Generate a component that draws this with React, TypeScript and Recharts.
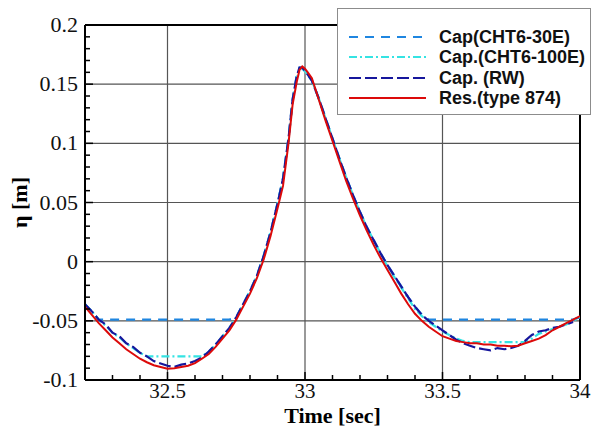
import { LineChart, Line, XAxis, YAxis, ReferenceLine, Legend } from "recharts"

// sample times [sec]
const time = [
  32.2, 32.225, 32.25, 32.275, 32.3, 32.325, 32.35, 32.375, 32.4, 32.425,
  32.45, 32.475, 32.5, 32.525, 32.55, 32.575, 32.6, 32.625, 32.65, 32.675,
  32.7, 32.725, 32.75, 32.775, 32.8, 32.825, 32.85, 32.875, 32.9, 32.92,
  32.94, 32.955, 32.97, 32.98, 32.99, 33.0, 33.01, 33.025, 33.05, 33.075,
  33.1, 33.125, 33.15, 33.175, 33.2, 33.225, 33.25, 33.275, 33.3, 33.325,
  33.35, 33.375, 33.4, 33.425, 33.45, 33.475, 33.5, 33.525, 33.55, 33.575,
  33.6, 33.625, 33.65, 33.675, 33.7, 33.725, 33.75, 33.775, 33.8, 33.825,
  33.85, 33.875, 33.9, 33.925, 33.95, 33.975, 34.0,
]

// Res.(type 874)
const res = [
  -0.038, -0.045, -0.052, -0.058, -0.064, -0.069, -0.074, -0.078, -0.082, -0.085,
  -0.0875, -0.089, -0.0905, -0.09, -0.089, -0.088, -0.0857, -0.082, -0.078, -0.072,
  -0.065, -0.058, -0.049, -0.038, -0.027, -0.014, 0.002, 0.022, 0.045, 0.064,
  0.1, 0.133, 0.152, 0.162, 0.165, 0.163, 0.16, 0.155, 0.137, 0.119,
  0.102, 0.085, 0.068, 0.053, 0.039, 0.026, 0.014, 0.003, -0.007, -0.017,
  -0.027, -0.036, -0.044, -0.05, -0.055, -0.059, -0.063, -0.065, -0.067, -0.068,
  -0.069, -0.069, -0.07, -0.07, -0.071, -0.071, -0.0715, -0.071, -0.069, -0.067,
  -0.065, -0.062, -0.058, -0.055, -0.052, -0.049, -0.046,
]

// Cap. (RW)
const rw = [
  -0.036, -0.042, -0.049, -0.053, -0.06, -0.063, -0.069, -0.072, -0.077, -0.08,
  -0.084, -0.086, -0.088, -0.089, -0.087, -0.086, -0.084, -0.081, -0.076, -0.07,
  -0.063, -0.056, -0.047, -0.036, -0.025, -0.012, 0.005, 0.025, 0.049, 0.07,
  0.104, 0.137, 0.157, 0.164, 0.164, 0.161, 0.158, 0.153, 0.138, 0.121,
  0.104, 0.087, 0.071, 0.056, 0.042, 0.029, 0.018, 0.007, -0.003, -0.012,
  -0.021, -0.03, -0.038, -0.045, -0.05, -0.054, -0.058, -0.062, -0.066, -0.069,
  -0.071, -0.073, -0.074, -0.075, -0.073, -0.074, -0.073, -0.071, -0.067, -0.062,
  -0.059, -0.058, -0.056, -0.055, -0.053, -0.051, null,
]

// Cap.(CHT6-100E)
const cht100 = [
  -0.036, -0.042, -0.049, -0.054, -0.06, -0.064, -0.069, -0.073, -0.077, -0.08,
  -0.08, -0.08, -0.08, -0.08, -0.08, -0.08, -0.08, -0.08, -0.076, -0.07,
  -0.063, -0.056, -0.047, -0.036, -0.025, -0.012, 0.005, 0.025, 0.049, 0.07,
  0.103, 0.136, 0.156, 0.162, 0.163, 0.161, 0.158, 0.153, 0.138, 0.121,
  0.104, 0.087, 0.071, 0.056, 0.042, 0.029, 0.018, 0.007, -0.004, -0.013,
  -0.022, -0.031, -0.04, -0.046, -0.051, -0.055, -0.059, -0.062, -0.065, -0.067,
  -0.068, -0.068, -0.068, -0.068, -0.068, -0.068, -0.068, -0.068, -0.068, -0.065,
  -0.061, -0.059, -0.057, -0.055, -0.053, -0.05, -0.047,
]

// Cap(CHT6-30E)
const cht30 = [
  -0.036, -0.042, -0.049, -0.049, -0.049, -0.049, -0.049, -0.049, -0.049, -0.049,
  -0.049, -0.049, -0.049, -0.049, -0.049, -0.049, -0.049, -0.049, -0.049, -0.049,
  -0.049, -0.049, -0.047, -0.036, -0.025, -0.012, 0.005, 0.025, 0.049, 0.07,
  0.104, 0.137, 0.157, 0.164, 0.164, 0.161, 0.158, 0.153, 0.138, 0.121,
  0.104, 0.087, 0.071, 0.056, 0.042, 0.029, 0.018, 0.007, -0.003, -0.012,
  -0.021, -0.03, -0.038, -0.045, -0.049, -0.049, -0.049, -0.049, -0.049, -0.049,
  -0.049, -0.049, -0.049, -0.049, -0.049, -0.049, -0.049, -0.049, -0.049, -0.049,
  -0.049, -0.049, -0.049, -0.049, -0.049, -0.049, -0.047,
]

const seriesNames = ["Cap(CHT6-30E)", "Cap.(CHT6-100E)", "Cap. (RW)", "Res.(type 874)"]

const xTicks = [
  32.2, 32.3, 32.4, 32.5, 32.6, 32.7, 32.8, 32.9, 33, 33.1,
  33.2, 33.3, 33.4, 33.5, 33.6, 33.7, 33.8, 33.9, 34,
]
const xMajor = [32.5, 33, 33.5, 34]
const yTicks = [
  -0.1, -0.09, -0.08, -0.07, -0.06, -0.05, -0.04, -0.03, -0.02, -0.01,
  0, 0.01, 0.02, 0.03, 0.04, 0.05, 0.06, 0.07, 0.08, 0.09,
  0.1, 0.11, 0.12, 0.13, 0.14, 0.15, 0.16, 0.17, 0.18, 0.19, 0.2,
]
const yMajor = [-0.1, -0.05, 0, 0.05, 0.1, 0.15, 0.2]
const xGrid = [32.5, 33, 33.5]
const yGrid = [-0.05, 0, 0.05, 0.1, 0.15]

const data = time.map((t, i) => ({
  t,
  cht30: cht30[i],
  cht100: cht100[i],
  rw: rw[i],
  res: res[i],
}))

const LINES = [
  { key: "cht30", color: "#1f86e0", dash: "9 7", width: 2.4 },
  { key: "cht100", color: "#35e3e3", dash: "8 3 2 3", width: 2.2 },
  { key: "rw", color: "#16169c", dash: "12 4", width: 2.2 },
  { key: "res", color: "#dc0a0a", dash: undefined, width: 2 },
]

const SERIF = "Liberation Serif"
const SANS = "Liberation Sans"

const XTick = (props: any) => {
  const { x, y, payload } = props
  const major = xMajor.includes(payload.value)
  return (
    <g>
      <line x1={x} y1={y} x2={x} y2={y - (major ? 8 : 5)} stroke="#000" strokeWidth={1.5} />
      {major && (
        <text x={x} y={y + 18} textAnchor="middle" fontFamily={SERIF} fontSize={21} fill="#111">
          {String(payload.value)}
        </text>
      )}
    </g>
  )
}

const YTick = (props: any) => {
  const { x, y, payload } = props
  const major = yMajor.includes(payload.value)
  return (
    <g>
      <line x1={x} y1={y} x2={x + (major ? 8 : 5)} y2={y} stroke="#000" strokeWidth={1.5} />
      {major && (
        <text x={x - 7} y={y + 7} textAnchor="end" fontFamily={SERIF} fontSize={22} fill="#111">
          {String(payload.value)}
        </text>
      )}
    </g>
  )
}

const LegendBox = () => (
  <div
    style={{
      width: 254,
      height: 107,
      boxSizing: "border-box",
      border: "1.5px solid #8c8c8c",
      background: "#fff",
      position: "relative",
    }}
  >
    {seriesNames.map((name, i) => (
      <div key={name} style={{ position: "absolute", left: 0, top: 18 + i * 20.3, height: 20, width: 254 }}>
        <svg width={80} height={20} style={{ position: "absolute", left: 10, top: 0 }}>
          <line
            x1={1}
            y1={10}
            x2={78}
            y2={10}
            stroke={LINES[i].color}
            strokeWidth={2}
            strokeDasharray={LINES[i].dash}
          />
        </svg>
        <span
          style={{
            position: "absolute",
            left: 101,
            top: 0,
            lineHeight: "20px",
            fontFamily: SANS,
            fontWeight: "bold",
            fontSize: 18,
            color: "#111",
            whiteSpace: "nowrap",
          }}
        >
          {name}
        </span>
      </div>
    ))}
  </div>
)

export default function App() {
  return (
    <div style={{ position: "absolute", left: 0, top: 0, width: 592, height: 428, background: "#fff" }}>
      <LineChart width={592} height={428} data={data} margin={{ top: 25, right: 12, left: 0, bottom: 0 }}>
        <XAxis
          dataKey="t"
          type="number"
          domain={[32.2, 34]}
          ticks={xTicks}
          interval={0}
          height={48}
          tickSize={0}
          tickMargin={0}
          tickLine={false}
          axisLine={{ stroke: "#000", strokeWidth: 2 }}
          tick={XTick}
          allowDataOverflow
          label={{
            content: (p: any) => {
              const vb = p.viewBox
              return (
                <text
                  x={vb.x + vb.width / 2}
                  y={vb.y + 43}
                  textAnchor="middle"
                  fontFamily={SERIF}
                  fontSize={22}
                  fontWeight="bold"
                  fill="#000"
                >
                  Time [sec]
                </text>
              )
            },
          }}
        />
        <YAxis
          type="number"
          domain={[-0.1, 0.2]}
          ticks={yTicks}
          interval={0}
          width={85}
          tickSize={0}
          tickMargin={0}
          tickLine={false}
          axisLine={{ stroke: "#000", strokeWidth: 2 }}
          tick={YTick}
          allowDataOverflow
          label={{
            content: (p: any) => {
              const vb = p.viewBox
              const cy = vb.y + vb.height / 2
              return (
                <text
                  x={27}
                  y={cy}
                  transform={`rotate(-90 27 ${cy})`}
                  textAnchor="middle"
                  fontFamily={SERIF}
                  fontSize={22}
                  fontWeight="bold"
                  fill="#000"
                >
                  η [m]
                </text>
              )
            },
          }}
        />
        {xGrid.map((v) => (
          <ReferenceLine key={`gx${v}`} x={v} stroke="#555" strokeWidth={1.2} />
        ))}
        {yGrid.map((v) => (
          <ReferenceLine key={`gy${v}`} y={v} stroke="#555" strokeWidth={1.2} />
        ))}
        <ReferenceLine x={34} stroke="#000" strokeWidth={2} />
        <ReferenceLine y={0.2} stroke="#000" strokeWidth={2} />
        {LINES.map((l, i) => (
          <Line
            key={l.key}
            dataKey={l.key}
            name={seriesNames[i]}
            type="linear"
            stroke={l.color}
            strokeWidth={l.width}
            strokeDasharray={l.dash}
            dot={false}
            activeDot={false}
            isAnimationActive={false}
          />
        ))}
        <Legend
          layout="vertical"
          align="center"
          verticalAlign="middle"
          content={() => <LegendBox />}
          wrapperStyle={{ position: "absolute", left: 337, top: 8, width: 254, height: 107 }}
        />
      </LineChart>
    </div>
  )
}
